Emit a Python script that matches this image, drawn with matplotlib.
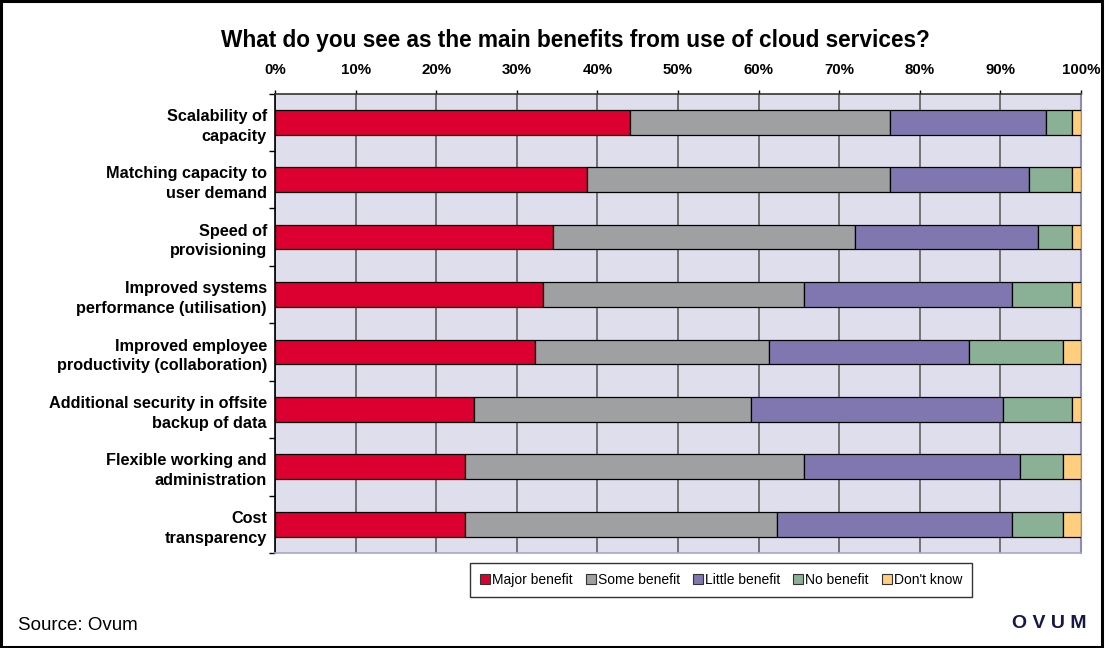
import matplotlib
matplotlib.use("Agg")
import matplotlib.pyplot as plt
import matplotlib.transforms as mtransforms
from matplotlib.patches import Rectangle
from matplotlib.lines import Line2D
import numpy as np

plt.rcParams['font.family'] = ['Liberation Sans', 'DejaVu Sans']

# Survey answers, share of respondents (%)
categories = [
    "Scalability of\ncapacity",
    "Matching capacity to\nuser demand",
    "Speed of\nprovisioning",
    "Improved systems\nperformance (utilisation)",
    "Improved employee\nproductivity (collaboration)",
    "Additional security in offsite\nbackup of data",
    "Flexible working and\nadministration",
    "Cost\ntransparency",
]
major_benefit = [44.0, 38.7, 34.5, 33.3, 32.2, 24.7, 23.6, 23.6]
some_benefit = [32.3, 37.6, 37.5, 32.3, 29.1, 34.3, 42.0, 38.7]
little_benefit = [19.3, 17.2, 22.7, 25.8, 24.8, 31.3, 26.8, 29.1]
no_benefit = [3.3, 5.4, 4.2, 7.5, 11.7, 8.6, 5.4, 6.4]
dont_know = [1.1, 1.1, 1.1, 1.1, 2.2, 1.1, 2.2, 2.2]

series_names = ["Major benefit", "Some benefit", "Little benefit", "No benefit", "Don't know"]
series_values = [major_benefit, some_benefit, little_benefit, no_benefit, dont_know]
series_colors = ["#DC0030", "#9FA0A1", "#8177B0", "#8AB096", "#FFCF7F"]
x_ticks = [0, 10, 20, 30, 40, 50, 60, 70, 80, 90, 100]
x_tick_labels = [f"{t}%" for t in x_ticks]

W, H = 1109, 648
fig = plt.figure(figsize=(W / 100, H / 100), dpi=100)
fig.patch.set_facecolor("white")

# Outer frame
fig.patches.append(Rectangle((1 / W, 1 / H), 1101 / W, 1 - 2 / H, transform=fig.transFigure,
                             fill=False, edgecolor="black", linewidth=2.2))

left, right, top, bottom = 275, 1081, 93.5, 553
ax = fig.add_axes([left / W, 1 - bottom / H, (right - left) / W, (bottom - top) / H])
ax.set_facecolor("#DFDEEC")

n = len(categories)
y = np.arange(n)
cum = np.zeros(n)
for name, vals, col in zip(series_names, series_values, series_colors):
    vals = np.array(vals)
    ax.barh(y, vals, left=cum, height=0.43, color=col, edgecolor="black",
            linewidth=0.9, label=name, zorder=3)
    cum += vals

ax.set_xlim(0, 100)
ax.set_ylim(n - 0.5, -0.5)
ax.xaxis.tick_top()
ax.set_xticks(x_ticks)
ax.set_xticklabels(x_tick_labels, fontsize=10.8, fontweight="bold")
ax.tick_params(axis="x", direction="out", length=3, width=1, pad=9, color="black")
ax.grid(axis="x", color="#555555", linewidth=1.1, zorder=1)

# Ticks at band boundaries; category labels right-aligned beside each bar
ax.set_yticks(np.arange(n + 1) - 0.5)
ax.set_yticklabels([])
ax.tick_params(axis="y", direction="out", length=4, width=1, color="black")
label_tf = mtransforms.blended_transform_factory(ax.transAxes, ax.transData) + \
    mtransforms.ScaledTranslation(-8 / 100, -4 / 100, fig.dpi_scale_trans)
for yi, cat in zip(y, categories):
    ax.text(0, yi, cat, transform=label_tf, ha="right", va="center", multialignment="right",
            fontsize=11.7, fontweight="bold", linespacing=1.4)

ax.spines["left"].set_color("black")
ax.spines["left"].set_linewidth(1.2)
ax.spines["top"].set_color("#333333")
ax.spines["top"].set_linewidth(1.2)
ax.spines["right"].set_color("#8E8CB4")
ax.spines["right"].set_linewidth(1.5)
ax.spines["bottom"].set_color("#A9A6CC")
ax.spines["bottom"].set_linewidth(1.2)

fig.text(575 / W, 1 - 40 / H, "What do you see as the main benefits from use of cloud services?",
         ha="center", va="center", fontsize=16.3, fontweight="bold")

handles = [Line2D([], [], marker="s", linestyle="none", markersize=7.5, markerfacecolor=c,
                  markeredgecolor="#333333", markeredgewidth=0.8) for c in series_colors]
leg = fig.legend(handles, series_names, loc="center", bbox_to_anchor=(721 / W, 1 - 580 / H),
                 ncol=5, fontsize=10, frameon=True, fancybox=False, handlelength=0.8,
                 handletextpad=0.1, columnspacing=0.9, borderpad=0.7, edgecolor="black")
leg.get_frame().set_linewidth(1.0)

fig.text(18 / W, 1 - 625 / H, "Source: Ovum", ha="left", va="center", fontsize=13.5)
fig.text(1086 / W, 1 - 624 / H, "O V U M", ha="right", va="center", fontsize=14,
         fontweight="bold", color="#16184A")

fig.savefig("out.png", dpi=100)
